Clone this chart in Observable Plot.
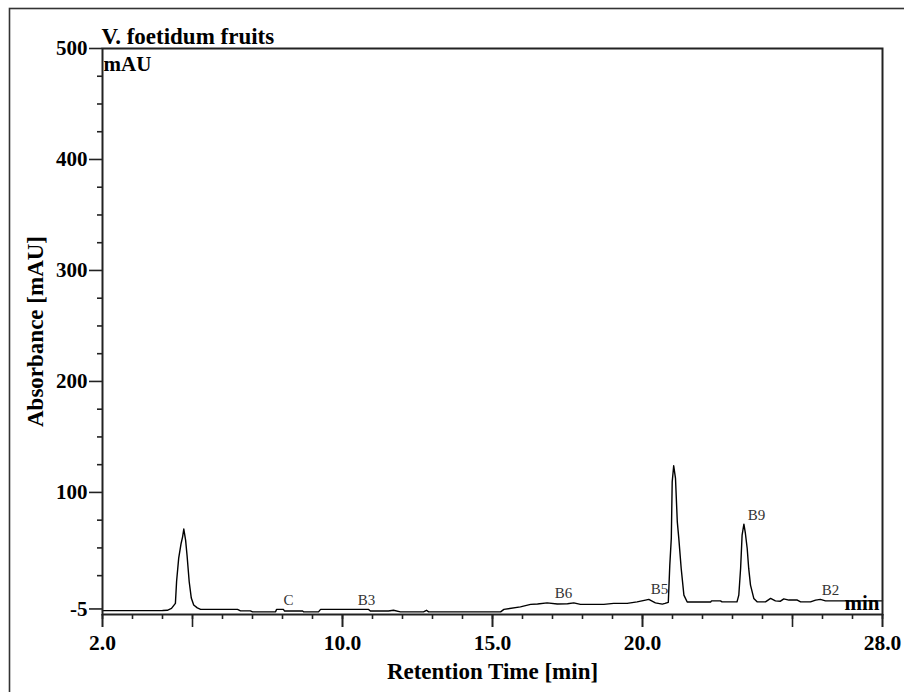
<!DOCTYPE html>
<html><head><meta charset="utf-8">
<script src="https://cdn.jsdelivr.net/npm/d3@7"></script>
<script src="https://cdn.jsdelivr.net/npm/@observablehq/plot@0.6"></script>
<style>body{margin:0;background:#fff} svg{display:block}</style>
</head><body><div id="chart"></div>
<script>
// Chromatogram trace: retention time (min) and absorbance (mAU)
const rtMin = [2.0,3.0,4.0,4.16,4.3,4.43,4.47,4.54,4.62,4.67,4.71,4.77,4.82,4.89,4.96,5.04,5.16,5.27,
  6.5,6.6,6.93,7.0,7.77,7.8,8.03,8.07,8.67,8.7,9.2,9.27,10.87,10.93,11.53,11.7,11.93,12.7,12.8,12.87,15.27,
  15.38,15.93,16.27,16.5,16.82,17.16,17.5,17.71,17.93,18.71,19.04,19.49,19.82,20.1,20.21,20.43,20.66,20.75,20.86,
  20.91,20.96,20.99,21.04,21.1,21.16,21.21,21.29,21.38,21.49,22.27,22.3,22.6,22.65,23.15,
  23.21,23.27,23.32,23.38,23.43,23.49,23.54,23.6,23.71,23.82,24.1,24.27,24.43,24.6,24.71,24.88,25.16,25.27,25.6,25.77,25.93,26.1,28.0];
const absMAU = [-6.5,-6.5,-6.4,-6.2,-4.5,0,20,40.8,54,60,67,57,42.7,19.5,4.8,-1.5,-4,-5.4,
  -5.4,-6.7,-6.7,-7.6,-7.6,-5.4,-5.4,-6.9,-6.9,-7.6,-7.6,-5.4,-5.4,-6.9,-6.9,-6.2,-7.6,-7.6,-6.2,-7.6,-7.6,
  -5.4,-3.1,-0.9,-0.5,0.5,-0.6,-0.3,0.5,-0.9,-0.9,0,0,1.4,3,3.6,0.5,-0.6,0,1,
  34.5,58.6,109.5,124,112.6,73.5,58.6,31.5,7.5,1.2,1.2,2.3,2.3,1.4,1.4,
  7.5,31.5,61.5,71.4,63,49.5,31.5,16.5,4.5,1.4,1.4,4.5,2.3,2,4.1,3,3,1.4,1.4,3,3.6,2.3,2.3];

// Peak annotations
const peakNames = ["C","B3","B6","B5","B9","B2"];
const peakRt = [8.2,10.8,17.37,20.57,23.8,26.27];
const peakLabelAbs = [3,3,9.3,12.9,79.5,12];

// Axis ticks
const yTicks = [-5,100,200,300,400,500];
const yMinorTicks = [25,50,75,125,150,175,225,250,275,325,350,375,425,450,475];
const xTicks = [2,10,15,20,28];
const xMidTicks = [2,5,10,15,20,25,28];
const xMinorTicks = [2,3,4,5,6,7,8,9,10,11,12,13,14,15,16,17,18,19,20,21,22,23,24,25,26,27,28];

const trace = rtMin.map((t,i)=>({t, v: absMAU[i]}));
const peaks = peakNames.map((n,i)=>({name:n, t:peakRt[i], v:peakLabelAbs[i]}));
const serif = "'Liberation Serif','Times New Roman',serif";

const chart = Plot.plot({
  width: 904, height: 692,
  marginLeft: 102, marginRight: 22, marginTop: 48, marginBottom: 78,
  x: {domain: [2, 28]},
  y: {domain: [-10, 500]},
  style: {fontFamily: serif, background: "white", color: "black"},
  marks: [
    Plot.axisY({ticks: yMinorTicks, tickSize: 5, tickFormat: () => "", label: null, stroke: "#222", strokeWidth: 1.6}),
    Plot.axisY({ticks: yTicks, tickSize: 13, tickPadding: 2, tickFormat: d => String(d), label: null, fontSize: 21, fontWeight: "bold", fontFamily: serif, stroke: "#222", strokeWidth: 1.6, fill: "black"}),
    Plot.axisX({ticks: xMinorTicks, tickSize: 5, tickFormat: () => "", label: null, stroke: "#222", strokeWidth: 1.6}),
    Plot.axisX({ticks: xMidTicks, tickSize: 13, tickFormat: () => "", label: null, stroke: "#222", strokeWidth: 1.6}),
    Plot.axisX({ticks: xTicks, tickSize: 13, tickPadding: 7, tickFormat: d => d.toFixed(1), label: null, fontSize: 21.5, fontWeight: "bold", fontFamily: serif, stroke: "#222", strokeWidth: 1.6, fill: "black"}),
    Plot.line(trace, {x: "t", y: "v", stroke: "black", strokeWidth: 1.4}),
    Plot.text(peaks, {x: "t", y: "v", text: "name", fontSize: 15, fontFamily: serif, fill: "#333"}),
    Plot.frame({stroke: "#222", strokeWidth: 2}),
    Plot.text(["V. foetidum fruits"], {text: d => d, frameAnchor: "top-left", textAnchor: "start", lineAnchor: "bottom", dx: -1, dy: -5, fontSize: 23, fontWeight: "bold", fill: "black"}),
    Plot.text(["mAU"], {text: d => d, frameAnchor: "top-left", textAnchor: "start", lineAnchor: "top", dx: 1, dy: 8, fontSize: 21, fontWeight: "bold", fill: "black"}),
    Plot.text(["min"], {text: d => d, frameAnchor: "bottom-right", textAnchor: "end", lineAnchor: "bottom", dx: -3, dy: -5, fontSize: 21, fontWeight: "bold", fill: "black"}),
    Plot.text(["Retention Time [min]"], {text: d => d, frameAnchor: "bottom", textAnchor: "middle", lineAnchor: "middle", dy: 57, fontSize: 23, fontWeight: "bold", fill: "black"}),
    Plot.text(["Absorbance [mAU]"], {text: d => d, frameAnchor: "left", textAnchor: "middle", lineAnchor: "middle", rotate: -90, dx: -67, fontSize: 23, fontWeight: "bold", fill: "black"})
  ]
});

d3.select(chart).insert("rect", ":first-child")
  .attr("x", 9.5).attr("y", 8.5).attr("width", 1000).attr("height", 1000)
  .attr("fill", "none").attr("stroke", "#333").attr("stroke-width", 1.6);

document.getElementById("chart").appendChild(chart);
</script>
</body></html>
